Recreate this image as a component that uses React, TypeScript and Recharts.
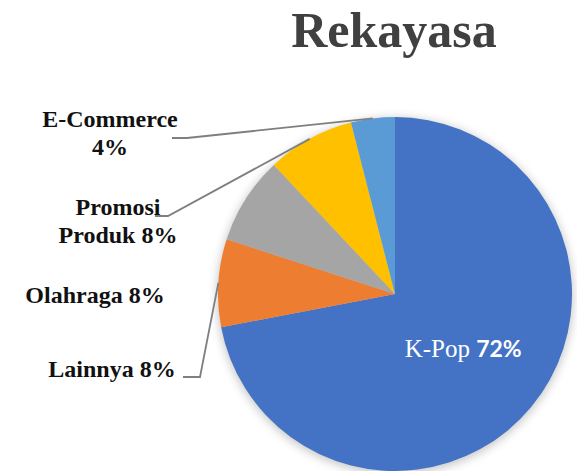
import React from 'react';
import { PieChart, Pie, Cell } from 'recharts';

// data (clockwise from 12 o'clock)
const categories = ['K-Pop', 'Lainnya', 'Olahraga', 'Promosi Produk', 'E-Commerce'];
const shares = [72, 8, 8, 8, 4];
const colors = ['#4472C4', '#ED7D31', '#A5A5A5', '#FFC000', '#5B9BD5'];

const data = categories.map((name, i) => ({ name, value: shares[i] }));

// manual label placement (offsets from pie centre), like the dragged Excel labels
const labelLayout: Record<number, any> = {
  1: { dx: -283, dy: 83, split: 0, line: [-212, 83, -195] },
  2: { dx: -300, dy: 9, split: 0, line: null },
  3: { dx: -277, dy: -79, split: 1, line: [-240, -78, -227] },
  4: { dx: -285, dy: -167, split: 1, line: [-223, -156, -208] },
};

const RAD = Math.PI / 180;
const serif = "'Liberation Serif', 'DejaVu Serif', serif";

const renderLabel = (props: any) => {
  const { cx, cy, midAngle, outerRadius, index, percent } = props;
  const name = categories[index];
  const pct = Math.round(percent * 100) + '%';
  const cos = Math.cos(-midAngle * RAD);
  const sin = Math.sin(-midAngle * RAD);

  if (index === 0) {
    const r = outerRadius * 0.5;
    return (
      <text x={cx + r * cos} y={cy + r * sin + 7} textAnchor="middle" fill="#fff" fontSize={25}>
        <tspan fontFamily={serif}>{name} </tspan>
        <tspan fontFamily="Lato, 'Liberation Sans', sans-serif" fontWeight="bold" fontSize={23}>{pct}</tspan>
      </text>
    );
  }

  const lay = labelLayout[index];
  const words = (name + ' ' + pct).split(' ');
  const lines = lay.split ? [words.slice(0, lay.split).join(' '), words.slice(lay.split).join(' ')] : [words.join(' ')];
  const ax = cx + outerRadius * cos;
  const ay = cy + outerRadius * sin;

  return (
    <g>
      {lay.line && (
        <polyline
          points={`${cx + lay.line[0]},${cy + lay.line[1]} ${cx + lay.line[2]},${cy + lay.line[1]} ${ax},${ay}`}
          fill="none"
          stroke="#7f7f7f"
          strokeWidth={1.8}
        />
      )}
      <text x={cx + lay.dx} y={cy + lay.dy} textAnchor="middle" fill="#111" fontFamily={serif} fontWeight="bold" fontSize={24}>
        {lines.map((l, i) => (
          <tspan key={i} x={cx + lay.dx} dy={i === 0 ? 0 : 28}>{l}</tspan>
        ))}
      </text>
    </g>
  );
};

export default function App() {
  return (
    <div style={{ position: 'absolute', left: 0, top: 0, width: 577, height: 471, background: '#fff', overflow: 'hidden' }}>
      <div
        style={{
          position: 'absolute',
          left: 0,
          width: 788,
          top: 5,
          textAlign: 'center',
          fontFamily: serif,
          fontWeight: 'bold',
          fontSize: 50,
          lineHeight: '50px',
          color: '#404040',
        }}
      >
        Rekayasa
      </div>
      <PieChart
        width={577}
        height={471}
        margin={{ top: 0, right: 0, bottom: 0, left: 0 }}
        style={{ position: 'absolute', left: 0, top: 0 }}
      >
        {/* soft outer shadow */}
        <Pie
          data={[{ name: 'shadow', value: 1 }]}
          dataKey="value"
          cx={395}
          cy={296}
          outerRadius={178}
          startAngle={90}
          endAngle={-270}
          stroke="none"
          isAnimationActive={false}
          label={false}
          labelLine={false}
        >
          <Cell fill="#000" fillOpacity={0.22} style={{ filter: 'blur(5px)' }} />
        </Pie>
        <Pie
          data={data}
          dataKey="value"
          nameKey="name"
          cx={395}
          cy={294}
          outerRadius={177}
          startAngle={90}
          endAngle={-270}
          stroke="none"
          isAnimationActive={false}
          label={renderLabel}
          labelLine={false}
        >
          {data.map((d, i) => (
            <Cell key={d.name} fill={colors[i]} />
          ))}
        </Pie>
      </PieChart>
    </div>
  );
}
